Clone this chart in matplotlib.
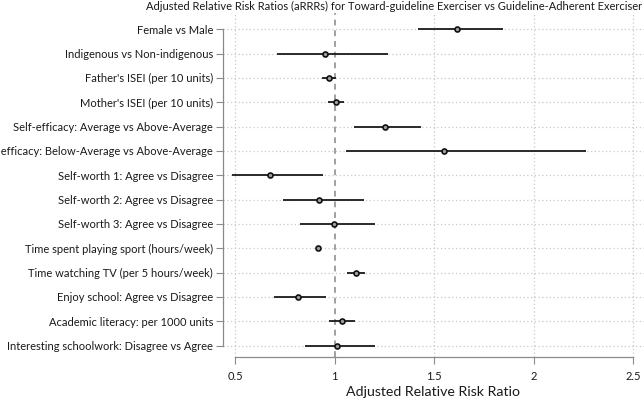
import matplotlib
matplotlib.use("Agg")
import matplotlib.pyplot as plt

labels = [
    "Female vs Male",
    "Indigenous vs Non-indigenous",
    "Father's ISEI (per 10 units)",
    "Mother's ISEI (per 10 units)",
    "Self-efficacy: Average vs Above-Average",
    "Self-efficacy: Below-Average vs Above-Average",
    "Self-worth 1: Agree vs Disagree",
    "Self-worth 2: Agree vs Disagree",
    "Self-worth 3: Agree vs Disagree",
    "Time spent playing sport (hours/week)",
    "Time watching TV (per 5 hours/week)",
    "Enjoy school: Agree vs Disagree",
    "Academic literacy: per 1000 units",
    "Interesting schoolwork: Disagree vs Agree",
]
estimate = [1.616, 0.950, 0.970, 1.005, 1.252, 1.547, 0.674, 0.920, 0.995, 0.914, 1.105, 0.813, 1.035, 1.012]
lower    = [1.417, 0.708, 0.935, 0.967, 1.096, 1.056, 0.485, 0.740, 0.825, 0.905, 1.059, 0.695, 0.973, 0.849]
upper    = [1.845, 1.268, 1.006, 1.046, 1.433, 2.261, 0.940, 1.145, 1.202, 0.923, 1.152, 0.957, 1.100, 1.204]
xticks = [0.5, 1, 1.5, 2, 2.5]
xtick_labels = ["0.5", "1", "1.5", "2", "2.5"]
title = "Adjusted Relative Risk Ratios (aRRRs) for Toward-guideline Exerciser vs Guideline-Adherent Exerciser"
xlabel = "Adjusted Relative Risk Ratio"

plt.rcParams['font.family'] = ['Lato', 'DejaVu Sans']
FS = 8.0

W, H = 644, 400
fig = plt.figure(figsize=(W / 100, H / 100), dpi=100)
left_px, right_px, top_px, bot_px = 222.7, 644, 13, 357
ax = fig.add_axes([left_px / W, 1 - bot_px / H, (right_px - left_px) / W, (bot_px - top_px) / H])

n = len(labels)
ys = list(range(n))
px_per_unit = 199.0
x0 = 0.5 - (235.3 - left_px) / px_per_unit
x1 = x0 + (right_px - left_px) / px_per_unit
ax.set_xlim(x0, x1)
row_px = 24.33
ax.set_ylim((bot_px - 29.3) / row_px, -(29.3 - top_px) / row_px)

grid_col = "#c8c8c8"
for xv in xticks:
    if xv != 1:
        ax.axvline(xv, color=grid_col, lw=0.9, ls=(0, (1, 2)), zorder=0)
for y in ys:
    ax.axhline(y, color=grid_col, lw=0.9, ls=(0, (1, 2)), zorder=0)
ax.axvline(1, color="#a0a0a0", lw=1.4, ls=(0, (3, 2.5)), zorder=1)

for y, lo, hi, est in zip(ys, lower, upper, estimate):
    ax.plot([lo, hi], [y, y], color="#1a1a1a", lw=1.3, solid_capstyle="butt", zorder=2)
ax.plot(estimate, ys, ls="none", marker="o", ms=3.6, mfc="#a0a0a0", mec="#111111", mew=1.2, zorder=3)

ax.set_yticks(ys)
ax.set_yticklabels(labels)
ax.set_xticks(xticks)
ax.set_xticklabels(xtick_labels)
ax.tick_params(axis="y", length=5, width=0.8, color="#8a8a8a", pad=2, labelsize=FS, labelcolor="#1a1a1a")
ax.tick_params(axis="x", length=5, width=0.8, color="#8a8a8a", pad=5, labelsize=FS, labelcolor="#1a1a1a")

for s in ["top", "right"]:
    ax.spines[s].set_visible(False)
ax.spines["left"].set_color("#8a8a8a")
ax.spines["bottom"].set_color("#8a8a8a")
ax.spines["left"].set_linewidth(0.9)
ax.spines["bottom"].set_linewidth(0.9)
ax.spines["left"].set_bounds(0, n - 1)
ax.spines["bottom"].set_bounds(0.5, 2.5)

fig.text(394.5 / W, 1 - 6 / H, title, ha="center", va="center", fontsize=FS, color="#1a1a1a")
fig.text(433 / W, 1 - 392 / H, xlabel, ha="center", va="center", fontsize=10.2, color="#1a1a1a")

fig.savefig("out.png", dpi=100)
